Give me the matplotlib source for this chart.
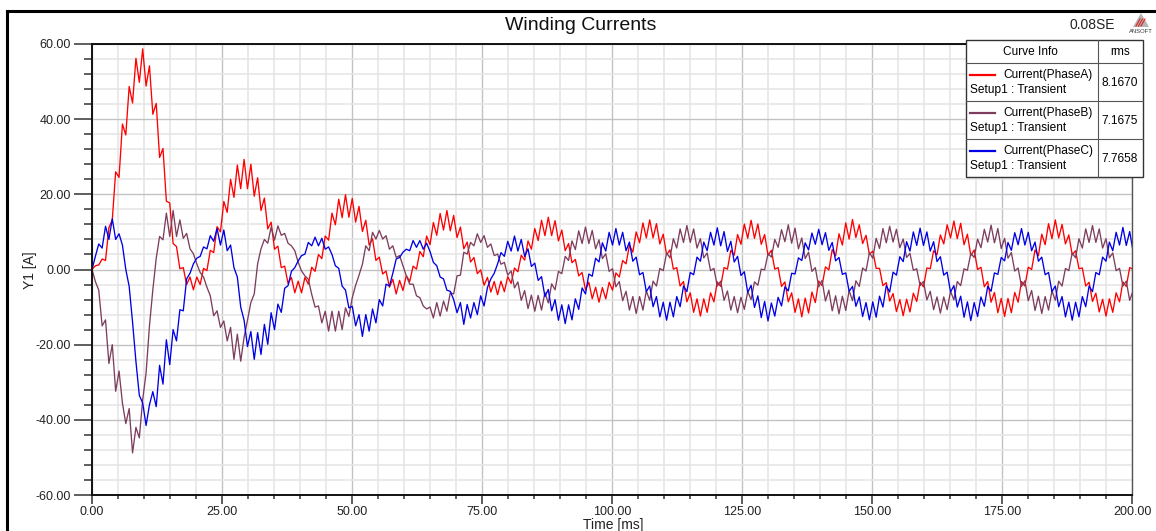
import numpy as np
import matplotlib
matplotlib.use("Agg")
import matplotlib.pyplot as plt
from matplotlib import font_manager
from matplotlib.patches import Rectangle, Polygon

# DATA  (one sample every 0.65 ms)

sample_step_ms = 0.65

current_a = [
    0.0, 1.0, 1.2, 2.8, 2.4, 11.1, 13.2, 26.0, 24.5, 38.7,
    35.8, 48.7, 44.3, 56.2, 49.8, 58.7, 48.8, 54.2, 41.3, 44.2,
    29.8, 32.2, 18.2, 17.7, 6.9, 6.1, 0.2, 0.5, -4.0, -2.0,
    -5.4, -2.0, -4.0, 0.3, -0.3, 5.1, 4.5, 11.4, 10.0, 18.1,
    15.2, 24.0, 19.2, 27.8, 21.5, 29.3, 21.5, 28.0, 19.5, 24.4,
    15.7, 19.0, 10.8, 12.6, 5.4, 6.2, 0.5, 0.9, -3.7, -2.1,
    -6.2, -3.1, -6.2, -2.1, -3.9, 0.6, -0.5, 4.0, 2.9, 8.9,
    7.8, 15.0, 11.9, 18.7, 13.8, 19.9, 13.9, 18.9, 12.6, 16.8,
    10.1, 13.1, 6.5, 8.2, 2.4, 3.3, -1.2, -0.4, -4.7, -2.6,
    -6.5, -2.9, -5.6, -1.6, -3.2, 0.9, 0.1, 4.8, 3.4, 8.9,
    6.6, 12.5, 9.1, 14.9, 10.5, 15.7, 10.3, 14.4, 8.5, 11.3,
    5.5, 7.3, 2.0, 3.2, -1.1, -0.1, -4.2, -2.1, -6.0, -3.2,
    -6.7, -3.1, -5.9, -1.9, -3.7, 0.4, -0.6, 3.8, 2.5, 7.6,
    5.4, 10.9, 7.7, 13.1, 9.0, 13.9, 9.0, 13.0, 7.6, 10.5,
    5.0, 6.9, 1.8, 2.7, -1.7, -0.8, -5.4, -3.4, -7.8, -4.7,
    -8.7, -4.8, -7.8, -3.4, -5.5, -0.9, -2.0, 2.4, 1.5, 6.5,
    4.6, 10.0, 7.1, 12.4, 8.4, 13.2, 8.4, 12.2, 6.8, 9.4,
    3.9, 5.2, 0.1, 0.5, -4.4, -3.2, -8.6, -6.2, -11.4, -7.8,
    -12.4, -7.8, -11.4, -6.2, -8.6, -3.3, -4.5, 0.5, 0.1, 5.1,
    3.8, 9.3, 6.7, 12.1, 8.3, 13.1, 8.3, 12.1, 6.7, 9.3,
    3.8, 5.1, 0.1, 0.5, -4.5, -3.3, -8.6, -6.2, -11.4, -7.8,
    -12.6, -7.6, -11.6, -6.0, -8.8, -3.1, -4.3, 0.7, -0.1, 5.3,
    3.6, 9.5, 6.5, 12.4, 8.1, 13.3, 8.5, 11.9, 6.9, 9.1,
    4.0, 4.9, 0.3, 0.3, -4.3, -3.5, -8.4, -6.4, -11.2, -8.0,
    -12.3, -7.9, -11.3, -6.3, -8.5, -3.4, -4.6, 0.4, 0.2, 5.0,
    3.9, 9.2, 6.8, 11.9, 8.4, 12.9, 8.2, 12.3, 6.6, 9.4,
    3.7, 5.2, 0.0, 0.6, -4.6, -3.2, -8.7, -6.1, -11.5, -7.7,
    -12.5, -7.7, -11.5, -6.1, -8.7, -3.2, -4.4, 0.6, 0.0, 5.2,
    3.7, 9.4, 6.6, 12.2, 8.2, 13.2, 8.4, 12.0, 6.8, 9.2,
    3.9, 5.0, 0.2, 0.4, -4.4, -3.4, -8.5, -6.3, -11.3, -7.9,
    -12.4, -7.8, -11.4, -6.2, -8.6, -3.3, -4.5, 0.5, 0.1,
]

current_b = [
    0.0, -3.2, -5.5, -15.0, -13.4, -25.0, -20.0, -32.4, -27.0, -35.5,
    -41.0, -37.0, -48.8, -42.0, -44.8, -34.6, -27.5, -15.0, -5.4, 3.0,
    8.8, 7.9, 15.0, 8.8, 15.7, 8.8, 13.2, 8.3, 9.6, 5.5,
    4.2, 1.5, -0.8, -2.0, -4.7, -7.0, -12.3, -11.0, -15.4, -13.7,
    -19.0, -15.4, -23.9, -17.2, -24.4, -18.0, -13.5, -8.8, -6.5, 1.5,
    5.5, 8.0, 7.0, 11.3, 7.8, 11.6, 9.1, 9.6, 7.0, 6.3,
    5.0, 1.9, -0.4, -1.7, -2.6, -6.6, -10.0, -9.7, -14.2, -11.1,
    -16.4, -11.1, -16.4, -11.1, -16.0, -10.2, -12.5, -7.5, -4.2, -1.5,
    1.4, 6.3, 5.0, 9.9, 8.1, 10.4, 8.1, 9.0, 5.4, 6.3,
    3.2, 3.7, 1.0, -1.7, -3.9, -3.9, -7.0, -7.5, -9.7, -10.5,
    -10.0, -12.9, -8.8, -12.4, -8.4, -11.1, -6.2, -6.5, -1.7, -1.5,
    4.6, 4.1, 7.2, 6.3, 9.5, 7.2, 9.0, 5.9, 6.8, 3.7,
    4.1, 1.4, 1.9, -1.5, -0.4, -4.9, -3.3, -8.2, -5.6, -10.4,
    -6.8, -11.1, -6.9, -10.8, -6.1, -8.9, -3.8, -5.4, -0.5, -1.1,
    3.5, 2.4, 7.6, 5.3, 10.3, 6.9, 11.3, 6.9, 10.4, 5.5,
    7.9, 2.9, 4.2, -0.5, 0.2, -4.6, -3.2, -8.3, -5.8, -10.8,
    -7.2,
    -11.7, -7.2, -10.8, -5.7, -8.2, -3.1, -4.4, 0.3, -0.3, 4.4,
    3.1, 8.2, 5.7, 10.8, 7.2, 11.7, 7.2, 10.8, 5.7, 8.2,
    3.1, 4.4, -0.3, 0.3, -4.4, -3.1, -8.2, -5.7, -10.8, -7.2,
    -11.5, -7.4, -10.6, -5.9, -8.0, -3.3, -4.2, 0.1, -0.1, 4.2,
    3.3, 8.0, 5.9, 10.6, 7.4, 11.9, 7.0, 11.0, 5.5, 8.4,
    2.9, 4.6, -0.5, 0.5, -4.6, -2.9, -8.4, -5.5, -11.0, -7.0,
    -11.8, -7.1, -10.9, -5.6, -8.3, -3.0, -4.5, 0.4, -0.4, 4.5,
    3.0, 8.3, 5.6, 10.9, 7.1, 11.5, 7.3, 10.7, 5.8, 8.1,
    3.2, 4.3, -0.2, 0.2, -4.3, -3.2, -8.1, -5.8, -10.7, -7.3,
    -11.6, -7.3, -10.7, -5.8, -8.1, -3.2, -4.3, 0.2, -0.2, 4.3,
    3.2, 8.1, 5.8, 10.7, 7.3, 11.8, 7.1, 10.9, 5.6, 8.3,
    3.0, 4.5, -0.4, 0.4, -4.5, -3.0, -8.3, -5.6, -10.9, -7.1,
    -11.7, -7.2, -10.8, -5.7, -8.2, -3.1, -4.4, 0.3, -0.3, 4.4,
    3.1, 8.2, 5.7, 10.8, 7.2, 11.7, 7.2, 10.8, 5.7, 8.2,
    3.1, 4.4, -0.3, 0.3, -4.4, -3.1, -8.2, -5.7,
]

current_c = [
    0.0, 3.5, 6.8, 5.7, 11.5, 8.0, 13.5, 8.0, 9.5, 6.5,
    0.0, -4.5, -14.0, -24.5, -33.5, -35.5, -41.5, -36.0, -32.5, -36.5,
    -25.5, -30.5, -18.7, -25.3, -16.0, -19.0, -10.7, -11.0, -2.5, -1.0,
    1.5, 3.0, 3.5, 6.0, 5.5, 9.0, 7.5, 10.9, 6.5, 10.5,
    5.0, 6.5, 0.5, -2.0, -10.0, -13.5, -20.5, -16.5, -23.9, -16.8,
    -22.6, -14.6, -19.9, -11.5, -16.0, -9.2, -11.4, -5.0, -4.3, -0.5,
    0.5, 2.3, 3.7, 4.1, 7.2, 6.3, 8.6, 6.3, 8.3, 5.4,
    6.0, 4.0, 1.0, 0.3, -4.4, -5.5, -10.2, -9.8, -15.0, -12.0,
    -17.8, -12.0, -16.4, -10.5, -14.2, -8.0, -9.7, -3.9, -4.4, -1.0,
    2.8, 3.2, 4.6, 5.4, 5.0, 7.7, 5.9, 7.7, 5.4, 7.0,
    4.8, 1.9, 1.0, -2.0, -2.5, -5.5, -5.8, -8.0, -11.5, -8.8,
    -14.6, -9.3, -12.9, -8.8, -12.0, -7.0, -9.7, -4.8, -2.5, -1.0,
    1.5, 4.5, 3.5, 7.5, 4.9, 8.9, 4.9, 8.0, 3.5, 5.5,
    0.8, 1.7, -2.9, -1.9, -7.2, -5.3, -11.0, -8.0, -13.5, -9.4,
    -14.4, -9.4, -13.4, -7.8, -10.6, -4.9, -6.5, -1.2, -1.8, 3.0,
    2.0, 7.1, 4.9, 9.9, 6.5,
    10.9, 6.5, 9.9, 5.0, 7.3, 2.2, 3.3, -1.4, -0.8, -5.9,
    -4.4, -9.9, -7.2, -12.6, -8.7, -13.5, -8.7, -12.6, -7.2, -9.9,
    -4.4, -5.9, -0.8, -1.4, 3.3, 2.2, 7.3, 5.0, 9.9, 6.5,
    11.1, 6.3, 10.1, 4.8, 7.5, 2.0, 3.5, -1.6, -0.6, -6.1,
    -4.2, -10.1, -7.0, -12.8, -8.5, -13.7, -8.9, -12.4, -7.4, -9.7,
    -4.6, -5.7, -1.0, -1.2, 3.1, 2.4, 7.1, 5.2, 9.7, 6.7,
    10.7, 6.6, 9.8, 5.1, 7.2, 2.3, 3.2, -1.3, -0.9, -5.8,
    -4.5, -9.8, -7.3, -12.5, -8.8, -13.4, -8.6, -12.7, -7.1, -10.0,
    -4.3, -6.0, -0.7, -1.5, 3.4, 2.1, 7.4, 4.9, 10.0, 6.4,
    11.0, 6.4, 10.0, 4.9, 7.4, 2.1, 3.4, -1.5, -0.7, -6.0,
    -4.3, -10.0, -7.1, -12.7, -8.6, -13.6, -8.8, -12.5, -7.3, -9.8,
    -4.5, -5.8, -0.9, -1.3, 3.2, 2.3, 7.2, 5.1, 9.8, 6.6,
    10.9, 6.5, 9.9, 5.0, 7.3, 2.2, 3.3, -1.4, -0.8, -5.9,
    -4.4, -9.9, -7.2, -12.6, -8.7, -13.5, -8.7, -12.6, -7.2, -9.9,
    -4.4, -5.9, -0.8, -1.4, 3.3, 2.2, 7.3, 5.0, 9.9, 6.5,
    11.2, 6.4, 10.1, 4.9,
]

curve_names = ["Current(PhaseA)", "Current(PhaseB)", "Current(PhaseC)"]
curve_setup = "Setup1 : Transient"
rms_values = ["8.1670", "7.1675", "7.7658"]
curve_colors = ["#ff0000", "#7d3e5e", "#0000e6"]

x_ticks = np.arange(0, 201, 25)
y_ticks = np.arange(-60, 61, 20)

# FONTS

installed = {f.name for f in font_manager.fontManager.ttflist}
plt.rcParams["font.family"] = ["Liberation Sans", "DejaVu Sans"]
if "Liberation Sans Narrow" in installed:
    narrow = ["Liberation Sans Narrow", "Liberation Sans"]
    nsize = 10.0
else:
    narrow = ["Liberation Sans", "DejaVu Sans"]
    nsize = 8.6

# PLOT

W, H = 1156, 531
fig = plt.figure(figsize=(W / 100, H / 100), dpi=100)
ax = fig.add_axes([92 / W, 1 - 495 / H, 1040 / W, 451 / H])

for series, color in zip([current_a, current_b, current_c], curve_colors):
    t = np.arange(len(series)) * sample_step_ms
    ax.plot(t, series, color=color, lw=0.95, solid_joinstyle="round")

ax.set_xlim(0, 200)
ax.set_ylim(-60, 60)
ax.set_xticks(x_ticks)
ax.set_xticklabels([f"{v:.2f}" for v in x_ticks])
ax.set_xticks(np.arange(0, 201, 5), minor=True)
ax.set_yticks(y_ticks)
ax.set_yticklabels([f"{v:.2f}" for v in y_ticks])
ax.set_yticks(np.arange(-60, 61, 4), minor=True)

ax.set_axisbelow(True)
ax.grid(which="minor", color="#e6e6e6", lw=1.2)
ax.grid(which="major", color="#c2c2c2", lw=1.0)

ax.tick_params(axis="y", which="major", length=13, width=1.1, color="#333333",
               labelsize=9, pad=2, labelcolor="#222222")
ax.tick_params(axis="y", which="minor", length=6, width=1.1, color="#333333")
ax.tick_params(axis="x", which="major", length=6.5, width=1.1, color="#333333",
               labelsize=9, pad=1.5, labelcolor="#222222")
ax.tick_params(axis="x", which="minor", length=3, width=1.1, color="#333333")

for side in ["left", "bottom", "top"]:
    ax.spines[side].set_color("#111111")
    ax.spines[side].set_linewidth(1.4)
ax.spines["right"].set_color("#555555")
ax.spines["right"].set_linewidth(1.0)

# overlay in pixel coords for frame, titles, legend table
ov = fig.add_axes([0, 0, 1, 1])
ov.set_xlim(0, W)
ov.set_ylim(H, 0)
ov.axis("off")
ov.set_zorder(5)

ov.plot([7, 7], [10.5, H + 5], color="black", lw=2.2, solid_capstyle="projecting")
ov.plot([7, W + 5], [10.5, 10.5], color="black", lw=2.2, solid_capstyle="projecting")

ov.text(581, 25, "Winding Currents", ha="center", va="center", fontsize=14, color="#111111")
ov.text(1092, 25, "0.08SE", ha="center", va="center", fontsize=nsize + 1.4,
        family=narrow, color="#222222")

# little Ansoft logo
ov.add_patch(Polygon([[1133, 27], [1141, 13], [1149, 27]], closed=True,
                     fc="#b5b5b5", ec="none"))
for k in range(3):
    ov.plot([1136 + 2.5 * k, 1140 + 2.5 * k], [26, 19], color="#dd2222", lw=0.8)
ov.text(1141, 31.5, "ANSOFT", ha="center", va="center", fontsize=4.2, color="#333333")

ov.text(30, 270, "Y1 [A]", rotation=90, ha="center", va="center", fontsize=10, color="#222222")
ov.text(613, 525.5, "Time [ms]", ha="center", va="center", fontsize=10, color="#222222")

# legend table
x0, x1, xc = 966, 1143, 1098
y_top, y_head, row_h = 40, 63, 38
ov.add_patch(Rectangle((x0, y_top), x1 - x0, y_head - y_top + 3 * row_h,
                       fc="white", ec="#333333", lw=1.0))
ov.plot([xc, xc], [y_top, y_head + 3 * row_h], color="#555555", lw=0.8)
ov.plot([x0, x1], [y_head, y_head], color="#555555", lw=0.8)
for r in range(1, 3):
    ov.plot([x0, x1], [y_head + r * row_h] * 2, color="#555555", lw=0.8)

ov.text(1030, 52, "Curve Info", ha="center", va="center", fontsize=nsize, family=narrow)
ov.text(1120, 52, "rms", ha="center", va="center", fontsize=nsize, family=narrow)

for r, (name, val, color) in enumerate(zip(curve_names, rms_values, curve_colors)):
    top = y_head + r * row_h
    ov.plot([970, 995], [top + 12, top + 12], color=color, lw=1.6)
    ov.text(1003, top + 12, name, ha="left", va="center", fontsize=nsize, family=narrow)
    ov.text(970, top + 27, curve_setup, ha="left", va="center", fontsize=nsize, family=narrow)
    ov.text(1120, top + 20, val, ha="center", va="center", fontsize=nsize, family=narrow)

fig.savefig("out.png", dpi=100)
